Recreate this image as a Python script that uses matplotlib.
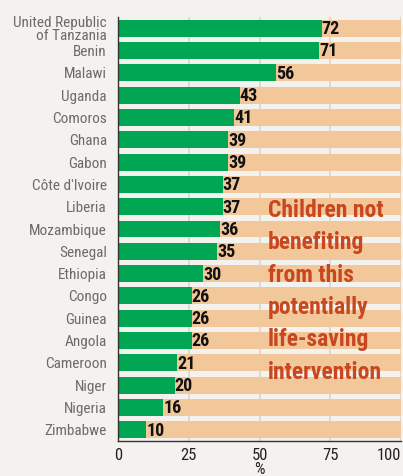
import matplotlib
matplotlib.use("Agg")
import matplotlib.pyplot as plt
import numpy as np

countries = [
    "United Republic\nof Tanzania", "Benin", "Malawi", "Uganda", "Comoros",
    "Ghana", "Gabon", "Côte d'Ivoire", "Liberia", "Mozambique", "Senegal",
    "Ethiopia", "Congo", "Guinea", "Angola", "Cameroon", "Niger", "Nigeria",
    "Zimbabwe",
]
values = [72, 71, 56, 43, 41, 39, 39, 37, 37, 36, 35, 30, 26, 26, 26, 21, 20, 16, 10]
xticks = [0, 25, 50, 75, 100]

BG = "#f4f2ee"
GREEN = "#00a651"
PEACH = "#f2c799"
ORANGE = "#c8471e"
NARROW = ["Roboto Condensed", "Archivo Narrow", "DejaVu Sans"]

plt.rcParams["font.family"] = NARROW

fig = plt.figure(figsize=(4.03, 4.76), dpi=100, facecolor=BG)
ax = fig.add_axes([118 / 403, 1 - 441 / 476, 283 / 403, 424 / 476])
ax.set_facecolor(BG)

y = np.arange(len(countries))
ax.barh(y, [100] * len(values), height=0.76, color=PEACH, zorder=1)
ax.barh(y, values, height=0.76, color=GREEN, zorder=2)
for yi, v in zip(y, values):
    ax.text(v, yi + 0.04, str(v), ha="left", va="center", fontsize=13,
            fontweight="bold", color="#111111", zorder=3)

ax.set_xlim(0, 100)
ax.set_ylim(len(countries) - 0.5, -0.5)
ax.set_yticks(y)
ax.set_yticklabels(countries, fontsize=11, color="#6b6b6b", linespacing=0.95)
ax.set_xticks(xticks)
ax.set_xticklabels([str(t) for t in xticks], fontsize=12, color="#222222")
ax.get_xticklabels()[-1].set_horizontalalignment("right")
ax.get_xticklabels()[-1].set_x(100.5)
ax.tick_params(axis="y", length=0, pad=8)
ax.tick_params(axis="x", length=0, pad=5)
ax.xaxis.grid(True, color="#d9d6d0", linewidth=1.2, zorder=0)
ax.set_axisbelow(True)
for s in ["top", "right"]:
    ax.spines[s].set_visible(False)
for s in ["left", "bottom"]:
    ax.spines[s].set_color("#333333")
    ax.spines[s].set_linewidth(1.0)
ax.set_xlabel("%", fontsize=12, color="#222222", labelpad=-1)

ax.text(53.0, 7.65,
        "Children not\nbenefiting\nfrom this\npotentially\nlife-saving\nintervention",
        ha="left", va="top", fontsize=17, fontweight="bold", color=ORANGE,
        linespacing=1.52, zorder=4)

fig.savefig("out.png", dpi=100, facecolor=BG)
